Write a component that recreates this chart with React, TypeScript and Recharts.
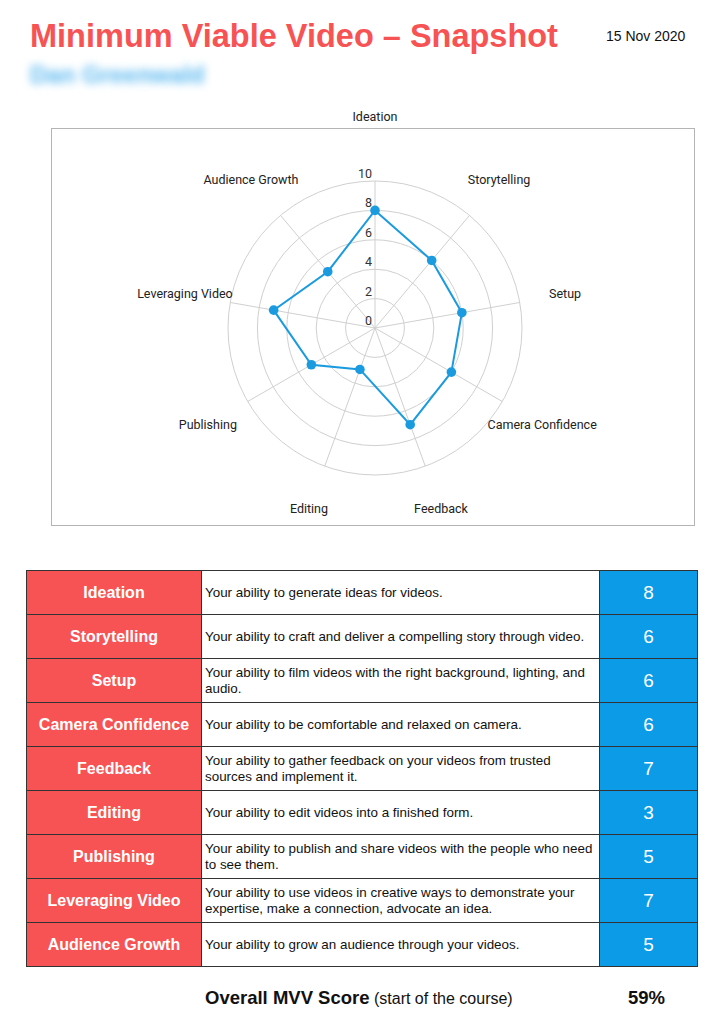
import React from "react";
import {
  Radar,
  RadarChart,
  PolarGrid,
  PolarAngleAxis,
  PolarRadiusAxis
} from "recharts";

const skills = [
  "Ideation",
  "Storytelling",
  "Setup",
  "Camera Confidence",
  "Feedback",
  "Editing",
  "Publishing",
  "Leveraging Video",
  "Audience Growth"
];

const scores = [8, 6, 6, 6, 7, 3, 5, 7, 5];

const descriptions = [
  "Your ability to generate ideas for videos.",
  "Your ability to craft and deliver a compelling story through video.",
  "Your ability to film videos with the right background, lighting, and audio.",
  "Your ability to be comfortable and relaxed on camera.",
  "Your ability to gather feedback on your videos from trusted sources and implement it.",
  "Your ability to edit videos into a finished form.",
  "Your ability to publish and share videos with the people who need to see them.",
  "Your ability to use videos in creative ways to demonstrate your expertise, make a connection, advocate an idea.",
  "Your ability to grow an audience through your videos."
];

const radiusTicks = [0, 2, 4, 6, 8, 10];

const data = skills.map((s, i) => ({ subject: s, score: scores[i] }));

const RED = "#f85354";
const BLUE = "#0c9be7";
const LINE = "#1a9be0";
const arial = "Arial, 'Liberation Sans', Helvetica, sans-serif";

const AngleTick = (props: any) => {
  const { cx, cy, payload, index } = props;
  const r = index === 0 ? 211 : 193;
  const a = (-payload.coordinate * Math.PI) / 180;
  const x = cx + r * Math.cos(a);
  const y = cy + r * Math.sin(a);
  return (
    <text
      x={x}
      y={y}
      dy={4}
      textAnchor="middle"
      fontSize={12.5}
      fontFamily="Roboto, sans-serif"
      fill="#222"
    >
      {payload.value}
    </text>
  );
};

const RadiusTick = (props: any) => {
  const { x, y, payload } = props;
  return (
    <text
      x={x - 3}
      y={y - 3}
      textAnchor="end"
      fontSize={12.5}
      fontFamily="Roboto, sans-serif"
      fill="#333"
    >
      {payload.value}
    </text>
  );
};

const Dot = (props: any) => {
  const { cx, cy, index } = props;
  return <circle key={`dot-${index}`} cx={cx} cy={cy} r={4.8} fill={LINE} />;
};

export default function App() {
  return (
    <div style={{ position: "absolute", left: 0, top: 0, width: 724, height: 1024, background: "#fff", fontFamily: arial }}>
      <div style={{ position: "absolute", left: 30, top: 18, fontSize: 32.5, fontWeight: "bold", color: RED, whiteSpace: "nowrap" }}>
        Minimum Viable Video – Snapshot
      </div>
      <div style={{ position: "absolute", left: 606, top: 28, fontSize: 14, color: "#111" }}>15 Nov 2020</div>
      <div style={{ position: "absolute", left: 30, top: 61, fontSize: 24, fontWeight: "bold", color: "#5ab8f0", filter: "blur(4px)", whiteSpace: "nowrap" }}>
        Dan Greenwald
      </div>

      <div style={{ position: "absolute", left: 51, top: 128, width: 642, height: 396, border: "1.5px solid #b4b4b4" }} />
      <div style={{ position: "absolute", left: 0, top: 0 }}>
        <RadarChart width={724} height={540} cx={375} cy={328} outerRadius={147} data={data} startAngle={90} endAngle={-270}>
          <PolarGrid gridType="circle" stroke="#d0d0d0" />
          <PolarAngleAxis dataKey="subject" tick={<AngleTick />} tickLine={false} axisLine={false} />
          <PolarRadiusAxis
            angle={90}
            domain={[0, 10]}
            ticks={radiusTicks}
            tick={<RadiusTick />}
            axisLine={false}
            tickLine={false}
          />
          <Radar
            dataKey="score"
            stroke={LINE}
            strokeWidth={2}
            fill="none"
            fillOpacity={0}
            dot={Dot}
            isAnimationActive={false}
          />
        </RadarChart>
      </div>

      <table
        style={{
          position: "absolute",
          left: 26,
          top: 570,
          width: 672,
          borderCollapse: "collapse",
          border: "1.5px solid #333",
          fontFamily: arial
        }}
      >
        <tbody>
          {skills.map((s, i) => (
            <tr key={s} style={{ height: 44 }}>
              <td style={{ width: 174, background: RED, color: "#fff", fontWeight: "bold", fontSize: 16, textAlign: "center", border: "1px solid #333", padding: 0 }}>
                {s}
              </td>
              <td style={{ background: "#fff", color: "#111", fontSize: 13.4, lineHeight: "16px", border: "1px solid #333", padding: "0 0 0 3px" }}>
                {descriptions[i]}
              </td>
              <td style={{ width: 97, background: BLUE, color: "#fff", fontSize: 19, textAlign: "center", border: "1px solid #333", padding: 0 }}>
                {scores[i]}
              </td>
            </tr>
          ))}
        </tbody>
      </table>

      <div style={{ position: "absolute", left: 205, top: 987, whiteSpace: "nowrap", color: "#111" }}>
        <span style={{ fontSize: 18.5, fontWeight: "bold" }}>Overall MVV Score</span>
        <span style={{ fontSize: 16 }}> (start of the course)</span>
      </div>
      <div style={{ position: "absolute", left: 628, top: 987, fontSize: 18.5, fontWeight: "bold", color: "#111" }}>59%</div>
    </div>
  );
}
